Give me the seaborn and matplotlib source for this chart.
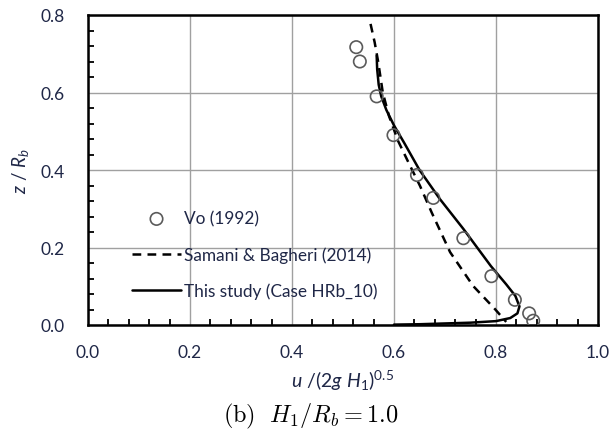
import numpy as np
import pandas as pd
import matplotlib
matplotlib.use("Agg")
import matplotlib.pyplot as plt
import seaborn as sns
from matplotlib.ticker import MultipleLocator
from matplotlib.font_manager import FontProperties

# Data
vo_u = [0.526, 0.533, 0.566, 0.599, 0.645, 0.677, 0.736, 0.791, 0.837, 0.865, 0.873]
vo_z = [0.717, 0.680, 0.590, 0.490, 0.387, 0.328, 0.224, 0.126, 0.065, 0.030, 0.011]

sb_u = [0.554, 0.562, 0.569, 0.578, 0.590, 0.608, 0.630, 0.651, 0.674, 0.710, 0.755, 0.798, 0.812, 0.820]
sb_z = [0.777, 0.730, 0.679, 0.600, 0.540, 0.475, 0.415, 0.359, 0.290, 0.188, 0.101, 0.041, 0.020, 0.008]

ts_u = [0.566, 0.567, 0.570, 0.575, 0.585, 0.600, 0.620, 0.650, 0.690, 0.736, 0.790, 0.820,
        0.838, 0.846, 0.842, 0.828, 0.800, 0.750, 0.700, 0.650, 0.600]
ts_z = [0.695, 0.660, 0.620, 0.590, 0.555, 0.515, 0.470, 0.400, 0.325, 0.248, 0.152, 0.105,
        0.075, 0.048, 0.030, 0.018, 0.010, 0.006, 0.004, 0.002, 0.001]

labels = ["Vo (1992)", "Samani & Bagheri (2014)", "This study (Case HRb_10)"]
x_ticks = [0.0, 0.2, 0.4, 0.6, 0.8, 1.0]
y_ticks = [0.0, 0.2, 0.4, 0.6, 0.8]

sns.set_theme(style="white")
plt.rcParams['font.family'] = ['Lato', 'DejaVu Sans']
plt.rcParams['mathtext.fontset'] = 'custom'
plt.rcParams['mathtext.it'] = 'Lato:italic'
plt.rcParams['mathtext.rm'] = 'Lato'
txt_color = '#1f2747'

fig = plt.figure(figsize=(6.13, 4.31), dpi=100)
ax = fig.add_axes([88/613, 1-326/431, 510/613, 310/431])

df_vo = pd.DataFrame({"u": vo_u, "z": vo_z})
df_sb = pd.DataFrame({"u": sb_u, "z": sb_z})
df_ts = pd.DataFrame({"u": ts_u, "z": ts_z})

sns.lineplot(data=df_sb, x="u", y="z", sort=False, estimator=None, ax=ax,
             color='black', lw=1.8, linestyle=(0, (3.5, 2.5)), label=labels[1], zorder=3)
sns.lineplot(data=df_ts, x="u", y="z", sort=False, estimator=None, ax=ax,
             color='black', lw=1.8, label=labels[2], zorder=4)
sns.scatterplot(data=df_vo, x="u", y="z", ax=ax, marker='o', s=80,
                facecolor='none', edgecolor='#5a5a5a', linewidth=1.2, label=labels[0], zorder=5)

ax.set_xlim(0, 1.0)
ax.set_ylim(0, 0.8)
ax.set_xticks(x_ticks)
ax.set_yticks(y_ticks)
ax.set_xticklabels([f"{v:.1f}" for v in x_ticks])
ax.set_yticklabels([f"{v:.1f}" for v in y_ticks])
ax.xaxis.set_minor_locator(MultipleLocator(0.04))
ax.yaxis.set_minor_locator(MultipleLocator(0.04))
ax.grid(True, which='major', color='#a0a0a0', lw=1.0)
ax.tick_params(which='major', direction='in', length=0, labelsize=12.5, labelcolor=txt_color)
ax.tick_params(axis='x', which='major', pad=14)
ax.tick_params(axis='y', which='major', pad=17)
ax.tick_params(which='minor', direction='in', length=4, width=1.3, color='black',
               bottom=True, left=True, top=False, right=False)
for s in ax.spines.values():
    s.set_color('black')
    s.set_linewidth(1.8)

ax.set_xlabel(r"$\mathit{u\ /(2g\ H_1)^{0.5}}$", fontsize=14, color=txt_color, labelpad=5)
ax.set_ylabel(r"$\mathit{z\ /\ R_b}$", fontsize=13.5, color=txt_color)
ax.yaxis.set_label_coords(-0.112, 0.5)

h, l = ax.get_legend_handles_labels()
order = [l.index(x) for x in labels]
leg = ax.legend([h[i] for i in order], [l[i] for i in order], frameon=False,
                loc='upper left', bbox_to_anchor=(0.055, 0.42), fontsize=12.4,
                handlelength=2.9, handletextpad=0.15, labelspacing=1.15, labelcolor=txt_color)

fig.text(311/613, 1-416/431, r"$\mathrm{(b)}\ \ H_1/R_b = 1.0$", ha='center', va='center',
         fontproperties=FontProperties(family='DejaVu Serif', size=17.5, math_fontfamily='cm'),
         color='black')

fig.savefig("out.png", dpi=100)
